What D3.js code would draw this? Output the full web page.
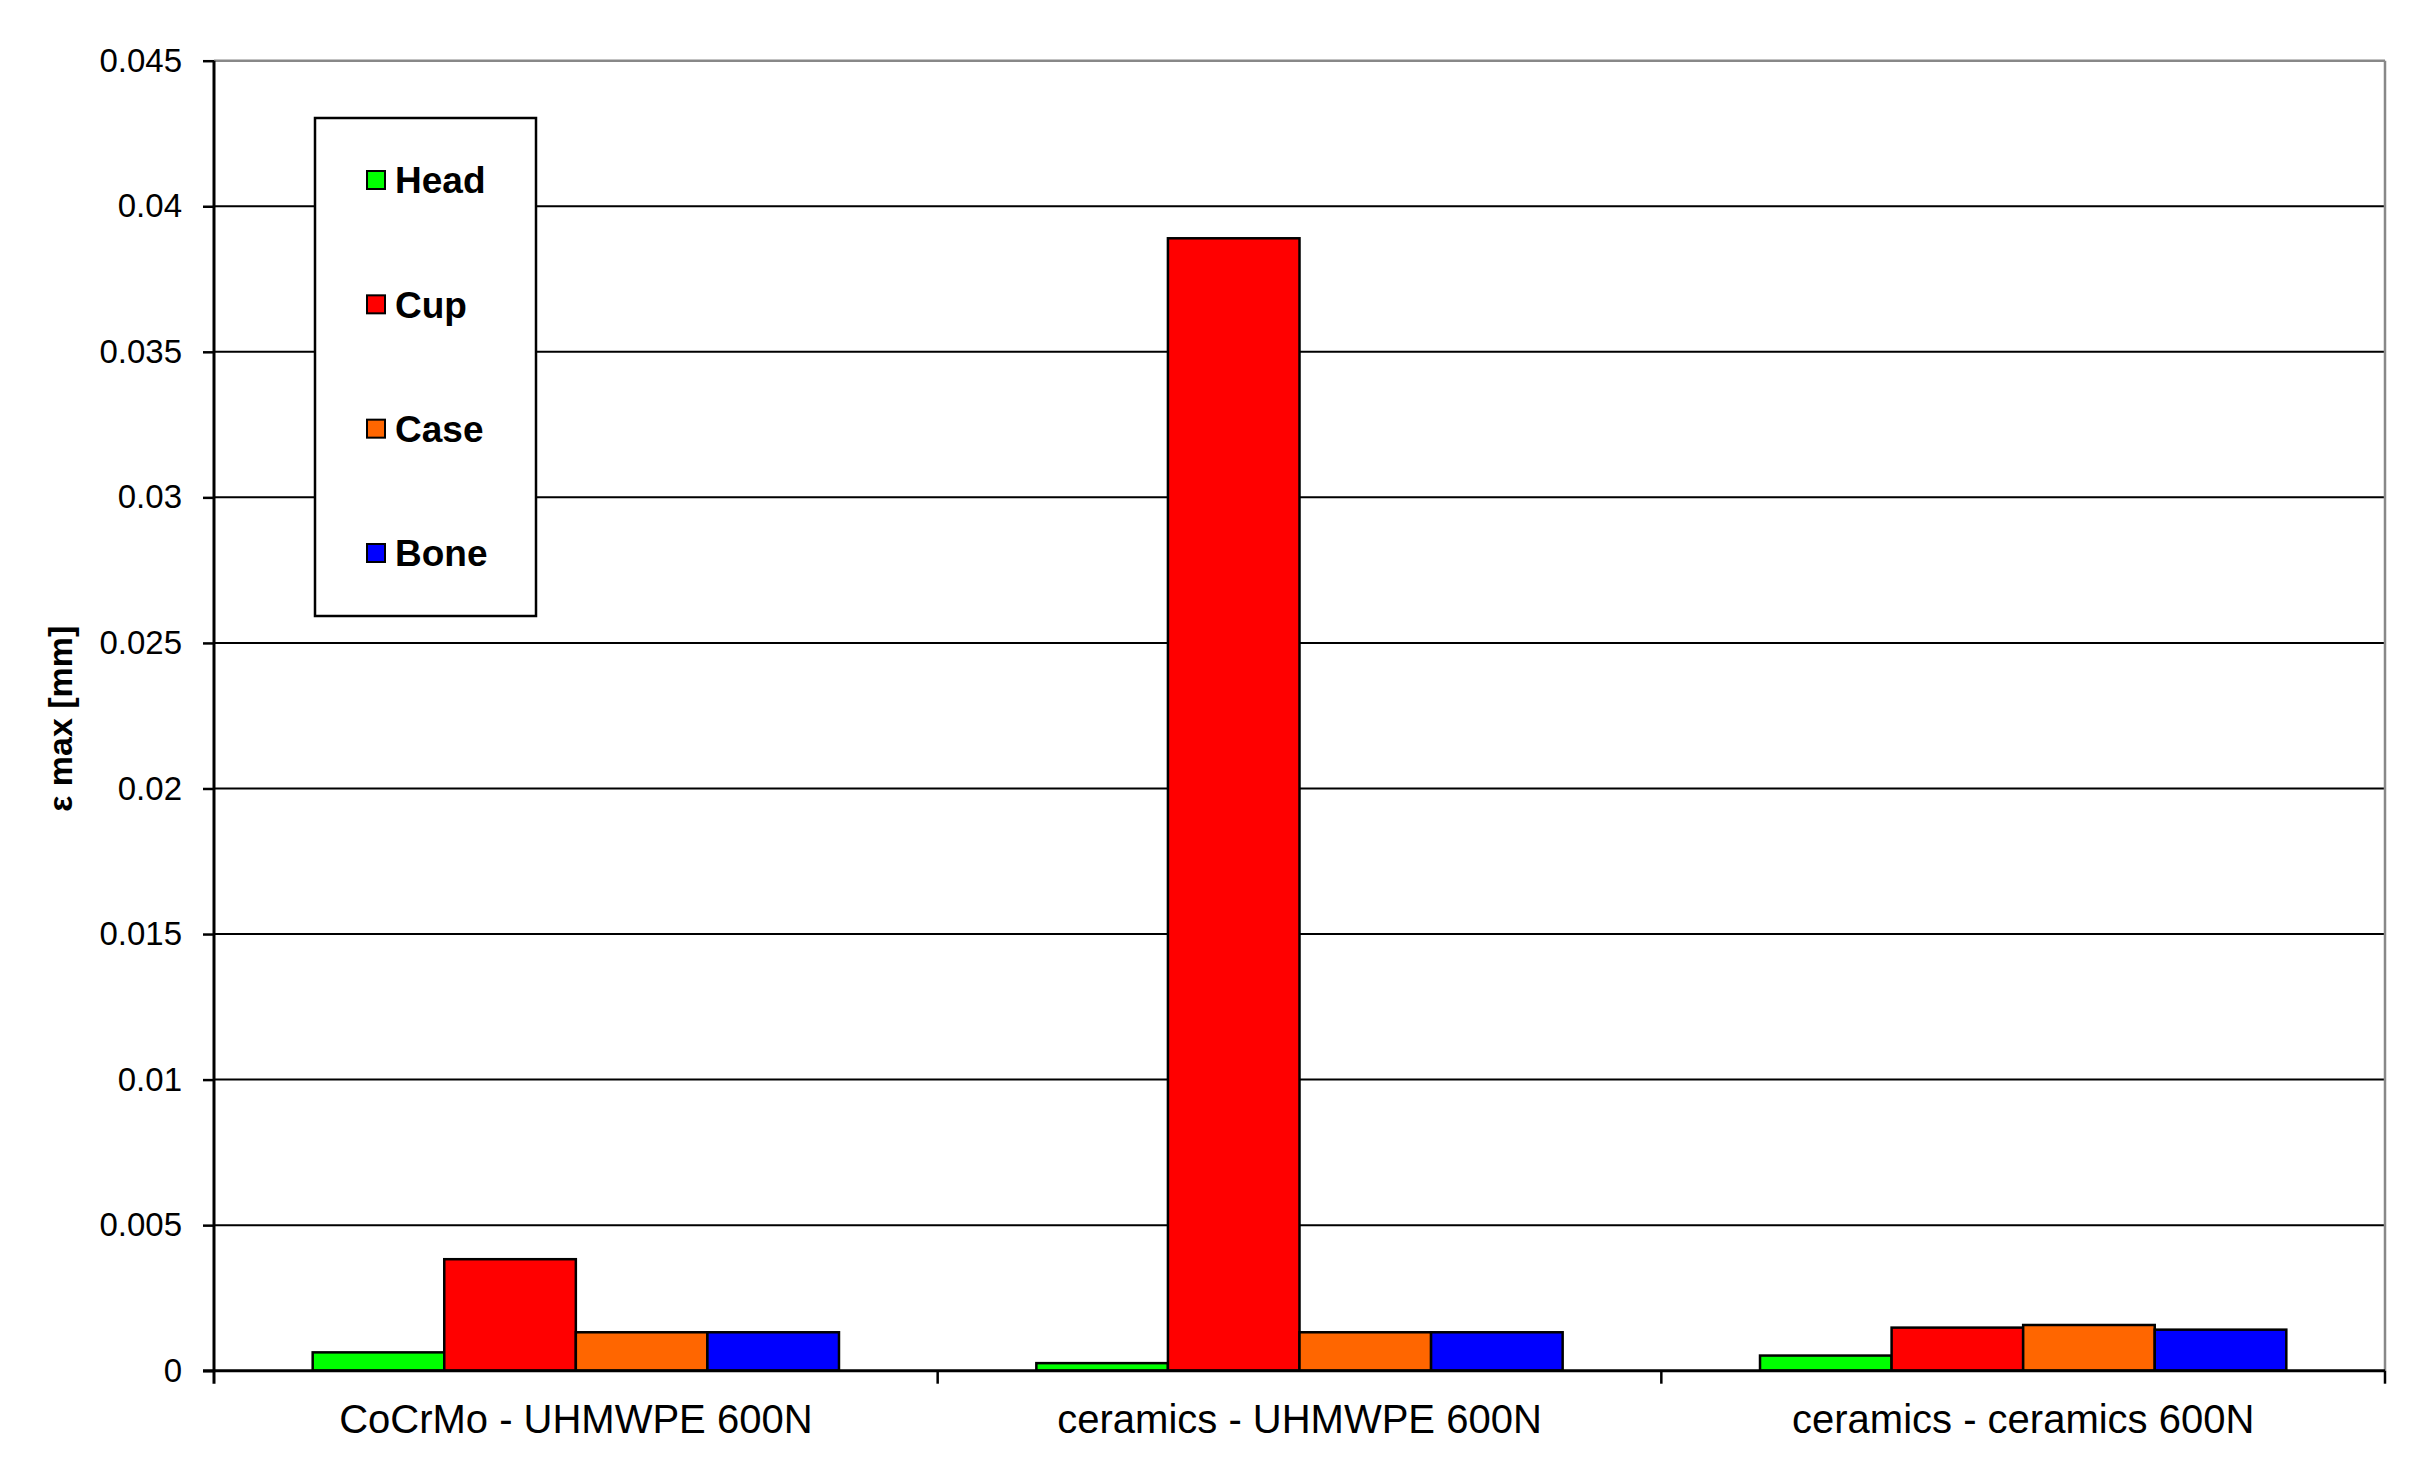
<!DOCTYPE html>
<html>
<head>
<meta charset="utf-8">
<script src="https://cdn.jsdelivr.net/npm/d3@7"></script>
<style>
  html, body { margin: 0; padding: 0; background: #fff; }
  svg { display: block; }
  text { font-family: Arial, "Liberation Sans", sans-serif; fill: #000; }
</style>
</head>
<body>
<script>
// ---- Data ----
const categories = ["CoCrMo - UHMWPE 600N", "ceramics - UHMWPE 600N", "ceramics - ceramics 600N"];
const series = ["Head", "Cup", "Case", "Bone"];
const seriesColors = ["#00ff00", "#ff0000", "#ff6600", "#0000ff"];
const headValues = [0.00063, 0.00026, 0.00052];
const cupValues  = [0.00383, 0.0389, 0.00148];
const caseValues = [0.00132, 0.00132, 0.00157];
const boneValues = [0.00132, 0.00132, 0.00141];
const yTickValues = [0, 0.005, 0.01, 0.015, 0.02, 0.025, 0.03, 0.035, 0.04, 0.045];
const yTickLabels = ["0", "0.005", "0.01", "0.015", "0.02", "0.025", "0.03", "0.035", "0.04", "0.045"];
const yTitle = "ε max [mm]";

const seriesValues = [headValues, cupValues, caseValues, boneValues];

// ---- Layout ----
const W = 2427, H = 1468;
const pLeft = 214, pRight = 2385, pTop = 60.7, pBottom = 1370.7;

const svg = d3.select("body").append("svg").attr("width", W).attr("height", H);

const x0 = d3.scaleBand().domain(categories).range([pLeft, pRight]).paddingInner(0).paddingOuter(0);
const x1 = d3.scaleBand().domain(series).range([0, x0.bandwidth()]).paddingInner(0).paddingOuter(0.75);
const y = d3.scaleLinear().domain([0, 0.045]).range([pBottom, pTop]);

// gridlines
svg.append("g").selectAll("line").data(yTickValues.filter(v => v > 0 && v < 0.045)).join("line")
  .attr("x1", pLeft).attr("x2", pRight)
  .attr("y1", d => y(d)).attr("y2", d => y(d))
  .attr("stroke", "#000").attr("stroke-width", 2);

// top and right border (gray)
svg.append("line").attr("x1", pLeft).attr("x2", pRight).attr("y1", y(0.045)).attr("y2", y(0.045))
  .attr("stroke", "#888").attr("stroke-width", 2.5);
svg.append("line").attr("x1", pRight).attr("x2", pRight).attr("y1", y(0.045)).attr("y2", pBottom)
  .attr("stroke", "#888").attr("stroke-width", 2.5);

// bars
const rows = [];
categories.forEach((c, ci) => series.forEach((s, si) => rows.push({ c, s, si, v: seriesValues[si][ci] })));
svg.append("g").selectAll("rect").data(rows).join("rect")
  .attr("x", d => x0(d.c) + x1(d.s))
  .attr("y", d => y(d.v))
  .attr("width", x1.bandwidth())
  .attr("height", d => y(0) - y(d.v))
  .attr("fill", d => seriesColors[d.si])
  .attr("stroke", "#000").attr("stroke-width", 2.5);

// y axis
const yAxis = d3.axisLeft(y).tickValues(yTickValues).tickFormat((d, i) => yTickLabels[i]).tickSize(11).tickPadding(21);
const gy = svg.append("g").attr("transform", `translate(${pLeft},0)`).call(yAxis);
gy.select(".domain").attr("stroke", "#000").attr("stroke-width", 3).attr("d", `M0,${pTop}V${pBottom + 13}`);
gy.selectAll(".tick line").attr("stroke", "#000").attr("stroke-width", 2.5);
gy.selectAll(".tick text").attr("font-size", 33).attr("font-family", "Arial, 'Liberation Sans', sans-serif").attr("fill", "#000");

// x axis
const xAxis = d3.axisBottom(x0).tickSize(0).tickPadding(34);
const gx = svg.append("g").attr("transform", `translate(0,${pBottom})`).call(xAxis);
gx.select(".domain").attr("stroke", "#000").attr("stroke-width", 3).attr("d", `M${pLeft - 11},0H${pRight}`);
gx.selectAll(".tick text").attr("font-size", 40).attr("font-family", "Arial, 'Liberation Sans', sans-serif").attr("fill", "#000");
// category separator ticks
const sepPositions = categories.map(c => x0(c)).concat([pRight]);
gx.append("g").selectAll("line").data(sepPositions.slice(1)).join("line")
  .attr("x1", d => d).attr("x2", d => d).attr("y1", 0).attr("y2", 13)
  .attr("stroke", "#000").attr("stroke-width", 2.5);

// y title
svg.append("text")
  .attr("transform", `translate(72,${(pTop + pBottom) / 2 + 3}) rotate(-90)`)
  .attr("text-anchor", "middle")
  .attr("font-size", 34).attr("font-weight", "bold")
  .text(yTitle);

// legend
const lg = svg.append("g");
lg.append("rect").attr("x", 315).attr("y", 118).attr("width", 221).attr("height", 498)
  .attr("fill", "#fff").attr("stroke", "#000").attr("stroke-width", 2.5);
const legendY = d3.scalePoint().domain(series).range([180, 553]);
const items = lg.selectAll("g.item").data(series).join("g").attr("class", "item")
  .attr("transform", d => `translate(367,${legendY(d)})`);
items.append("rect").attr("x", 0).attr("y", -9).attr("width", 18).attr("height", 18)
  .attr("fill", (d, i) => seriesColors[i]).attr("stroke", "#000").attr("stroke-width", 2);
items.append("text").attr("x", 28).attr("y", 0).attr("dy", "0.36em")
  .attr("font-size", 37).attr("font-weight", "bold").text(d => d);
</script>
</body>
</html>
